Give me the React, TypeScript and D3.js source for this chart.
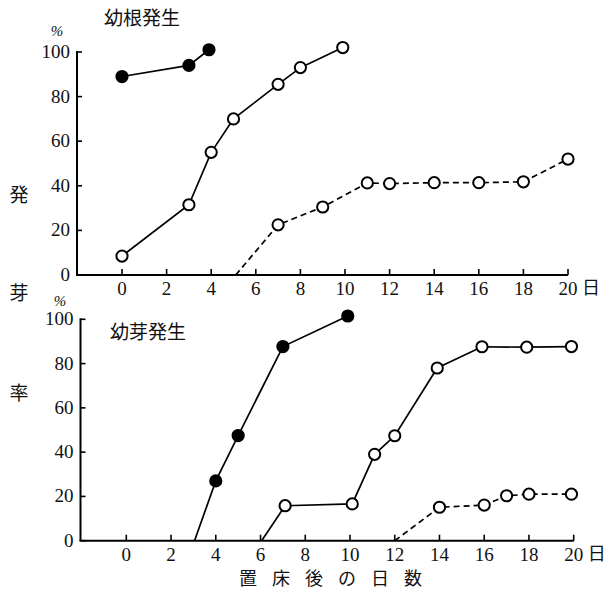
import React from "react";
import * as d3 from "d3";

type Pt = { d: number; v: number };

// Top panel: 幼根発生
const rootFilled: Pt[] = [
  { d: 0, v: 89 },
  { d: 3, v: 94 },
  { d: 3.9, v: 101 },
];
const rootOpenSolid: Pt[] = [
  { d: 0, v: 8.5 },
  { d: 3, v: 31.5 },
  { d: 4, v: 55 },
  { d: 5, v: 70 },
  { d: 7, v: 85.5 },
  { d: 8, v: 93 },
  { d: 9.9, v: 102 },
];
const rootOpenDashedStart: Pt = { d: 5.1, v: 0 };
const rootOpenDashed: Pt[] = [
  { d: 7, v: 22.5 },
  { d: 9, v: 30.5 },
  { d: 11, v: 41.3 },
  { d: 12, v: 41 },
  { d: 14, v: 41.4 },
  { d: 16, v: 41.4 },
  { d: 18, v: 41.8 },
  { d: 20, v: 52 },
];

// Bottom panel: 幼芽発生
const shootFilledStart: Pt = { d: 3.05, v: 0 };
const shootFilled: Pt[] = [
  { d: 4, v: 27 },
  { d: 5, v: 47.5 },
  { d: 7, v: 87.7 },
  { d: 9.9, v: 101.5 },
];
const shootOpenSolidStart: Pt = { d: 6.05, v: 0 };
const shootOpenSolid: Pt[] = [
  { d: 7.1, v: 15.8 },
  { d: 10.1, v: 16.6 },
  { d: 11.1, v: 39 },
  { d: 12, v: 47.4 },
  { d: 13.9, v: 78 },
  { d: 15.9, v: 87.6 },
  { d: 17.9, v: 87.4 },
  { d: 19.9, v: 87.7 },
];
const shootOpenDashedStart: Pt = { d: 12, v: 0 };
const shootOpenDashed: Pt[] = [
  { d: 14, v: 15.1 },
  { d: 16, v: 16.1 },
  { d: 17, v: 20.3 },
  { d: 18, v: 21 },
  { d: 19.9, v: 21 },
];

const xTicks = [0, 2, 4, 6, 8, 10, 12, 14, 16, 18, 20];
const yTicks = [0, 20, 40, 60, 80, 100];
const xTitleChars = ["置", "床", "後", "の", "日", "数"];
const yTitleChars = ["発", "芽", "率"];

const NUM_FONT = "Liberation Serif";
const CJK_FONT = "Noto Sans CJK JP";

type PanelProps = {
  axisX: number;
  x0: number;
  x20: number;
  y0: number;
  y100: number;
  title: string;
  titleX: number;
  titleY: number;
  pctX: number;
  pctY: number;
  labelY: number;
  series: { pts: Pt[]; start?: Pt; filled: boolean; dashed: boolean }[];
};

function Panel(p: PanelProps) {
  const x = d3.scaleLinear().domain([0, 20]).range([p.x0, p.x20]);
  const y = d3.scaleLinear().domain([0, 100]).range([p.y0, p.y100]);
  const line = d3
    .line<Pt>()
    .x((d) => x(d.d))
    .y((d) => y(d.v));
  return (
    <g>
      <line x1={p.axisX} x2={p.axisX} y1={y(100) - 1} y2={y(0)} stroke="#000" strokeWidth={2} />
      <line x1={p.axisX - 1} x2={x(20)} y1={y(0)} y2={y(0)} stroke="#000" strokeWidth={2} />
      {yTicks.map((t) => (
        <g key={"y" + t}>
          <line x1={p.axisX} x2={p.axisX + 5} y1={y(t)} y2={y(t)} stroke="#000" strokeWidth={1.6} />
          <text
            x={p.axisX - 7}
            y={y(t) + 6}
            textAnchor="end"
            fontFamily={NUM_FONT}
            fontSize={19}
            fill="#111"
          >
            {t}
          </text>
        </g>
      ))}
      {xTicks.map((t) => (
        <g key={"x" + t}>
          <line x1={x(t)} x2={x(t)} y1={y(0)} y2={y(0) - 6} stroke="#000" strokeWidth={1.6} />
          <text
            x={x(t)}
            y={p.labelY}
            textAnchor="middle"
            fontFamily={NUM_FONT}
            fontSize={19}
            fill="#111"
          >
            {t}
          </text>
        </g>
      ))}
      <text x={x(20) + 14} y={p.labelY - 1} fontFamily={CJK_FONT} fontSize={18} fill="#111">
        日
      </text>
      <text
        x={p.pctX}
        y={p.pctY}
        textAnchor="middle"
        fontFamily={NUM_FONT}
        fontSize={15}
        fontStyle="italic"
        fill="#111"
      >
        %
      </text>
      <text x={p.titleX} y={p.titleY} fontFamily={CJK_FONT} fontSize={19} fill="#111">
        {p.title}
      </text>
      {p.series.map((s, i) => {
        const pts = s.start ? [s.start, ...s.pts] : s.pts;
        return (
          <g key={"s" + i}>
            <path
              d={line(pts) || ""}
              fill="none"
              stroke="#000"
              strokeWidth={1.7}
              strokeDasharray={s.dashed ? "6 4" : undefined}
            />
            {s.pts.map((q, j) => (
              <circle
                key={j}
                cx={x(q.d)}
                cy={y(q.v)}
                r={5.6}
                fill={s.filled ? "#000" : "#fff"}
                stroke="#000"
                strokeWidth={2}
              />
            ))}
          </g>
        );
      })}
    </g>
  );
}

export default function App() {
  return (
    <div style={{ position: "absolute", left: 0, top: 0 }}>
      <svg width={610} height={589} style={{ display: "block", background: "#fff" }}>
        <Panel
          axisX={77}
          x0={122}
          x20={568}
          y0={275}
          y100={52}
          title="幼根発生"
          titleX={104}
          titleY={25}
          pctX={57}
          pctY={36}
          labelY={295}
          series={[
            { pts: rootFilled, filled: true, dashed: false },
            { pts: rootOpenSolid, filled: false, dashed: false },
            { pts: rootOpenDashed, start: rootOpenDashedStart, filled: false, dashed: true },
          ]}
        />
        <Panel
          axisX={80.5}
          x0={126.3}
          x20={573.7}
          y0={540.7}
          y100={319.3}
          title="幼芽発生"
          titleX={110}
          titleY={339}
          pctX={60}
          pctY={306}
          labelY={561}
          series={[
            { pts: shootFilled, start: shootFilledStart, filled: true, dashed: false },
            { pts: shootOpenSolid, start: shootOpenSolidStart, filled: false, dashed: false },
            { pts: shootOpenDashed, start: shootOpenDashedStart, filled: false, dashed: true },
          ]}
        />
        {yTitleChars.map((c, i) => (
          <text
            key={c}
            x={19}
            y={[195, 293, 393][i] + 7}
            textAnchor="middle"
            fontFamily={CJK_FONT}
            fontSize={19}
            fill="#111"
          >
            {c}
          </text>
        ))}
        {xTitleChars.map((c, i) => (
          <text
            key={c + i}
            x={248 + i * 33}
            y={585}
            textAnchor="middle"
            fontFamily={CJK_FONT}
            fontSize={18}
            fill="#111"
          >
            {c}
          </text>
        ))}
      </svg>
    </div>
  );
}
